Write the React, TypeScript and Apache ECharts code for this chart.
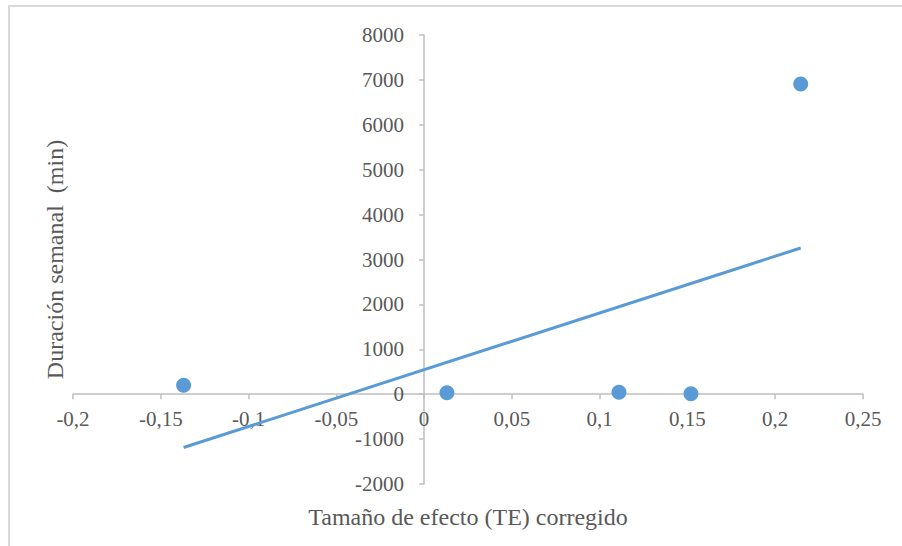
import React, { useEffect, useRef } from "react";
import * as echarts from "echarts";

const effectSize: number[] = [-0.137, 0.013, 0.111, 0.152, 0.2145];
const weeklyMinutes: number[] = [200, 30, 45, 10, 6910];
const xTitle = "Tamaño de efecto (TE) corregido";
const yTitle = "Duración semanal  (min)";

function regression(xs: number[], ys: number[]) {
  const n = xs.length;
  const mx = xs.reduce((a, b) => a + b, 0) / n;
  const my = ys.reduce((a, b) => a + b, 0) / n;
  let sxy = 0;
  let sxx = 0;
  for (let i = 0; i < n; i++) {
    sxy += (xs[i] - mx) * (ys[i] - my);
    sxx += (xs[i] - mx) * (xs[i] - mx);
  }
  const slope = sxy / sxx;
  return { slope, intercept: my - slope * mx };
}

export default function App() {
  const ref = useRef<HTMLDivElement>(null);
  useEffect(() => {
    if (!ref.current) return;
    const chart = echarts.init(ref.current, null, { renderer: "svg" });
    const { slope, intercept } = regression(effectSize, weeklyMinutes);
    const xMin = Math.min(...effectSize);
    const xMax = Math.max(...effectSize);
    const trend = [
      [xMin, intercept + slope * xMin],
      [xMax, intercept + slope * xMax],
    ];
    const font = "'Liberation Serif', 'Times New Roman', serif";
    const axisColor = "#bfbfbf";
    const textColor = "#595959";
    // grid geometry (pixels) and the offsets that place each axis on the other's zero
    const gridLeft = 73;
    const gridRight = 39;
    const gridTop = 35;
    const gridBottom = 62;
    const plotW = 902 - gridLeft - gridRight;
    const plotH = 546 - gridTop - gridBottom;
    const xLo = -0.2, xHi = 0.25, yLo = -2000, yHi = 8000;
    const xZeroOffset = -((0 - yLo) / (yHi - yLo)) * plotH;
    const yZeroOffset = -((0 - xLo) / (xHi - xLo)) * plotW;
    chart.setOption({
      animation: false,
      backgroundColor: "#ffffff",
      textStyle: { fontFamily: font },
      graphic: [
        { type: "rect", shape: { x: 8, y: 5, width: 894, height: 2 }, style: { fill: "#d9d9d9" }, silent: true },
        { type: "rect", shape: { x: 8, y: 5, width: 2, height: 541 }, style: { fill: "#d9d9d9" }, silent: true },
      ],
      grid: {
        left: gridLeft,
        right: gridRight,
        top: gridTop,
        bottom: gridBottom,
        containLabel: false,
        outerBoundsMode: "none",
      },
      xAxis: {
        type: "value",
        min: xLo,
        max: xHi,
        interval: 0.05,
        position: "bottom",
        offset: xZeroOffset,
        name: xTitle,
        nameLocation: "middle",
        nameGap: 111,
        nameTextStyle: { fontFamily: font, fontSize: 24, color: textColor },
        axisLine: { show: true, onZero: false, lineStyle: { color: axisColor, width: 1.5 } },
        axisTick: { show: true, length: 5, lineStyle: { color: axisColor, width: 1.5 } },
        splitLine: { show: false },
        axisLabel: {
          fontFamily: font,
          fontSize: 21,
          color: textColor,
          margin: 14,
          formatter: (v: number) => String(Number(v.toFixed(2))).replace(".", ","),
        },
      },
      yAxis: {
        type: "value",
        min: yLo,
        max: yHi,
        interval: 1000,
        position: "left",
        offset: yZeroOffset,
        name: yTitle,
        nameLocation: "middle",
        nameGap: 357,
        nameTextStyle: { fontFamily: font, fontSize: 24, color: textColor },
        axisLine: { show: true, onZero: false, lineStyle: { color: axisColor, width: 1.5 } },
        axisTick: { show: true, length: 5, lineStyle: { color: axisColor, width: 1.5 } },
        splitLine: { show: false },
        axisLabel: {
          fontFamily: font,
          fontSize: 21,
          color: textColor,
          margin: 20,
          formatter: (v: number) => String(v),
        },
      },
      series: [
        {
          type: "line",
          data: trend,
          showSymbol: false,
          symbol: "none",
          lineStyle: { color: "#5b9bd5", width: 3 },
          z: 2,
        },
        {
          type: "scatter",
          data: effectSize.map((x, i) => [x, weeklyMinutes[i]]),
          symbolSize: 15,
          itemStyle: { color: "#5b9bd5", opacity: 1 },
          z: 3,
        },
      ],
    });
    return () => chart.dispose();
  }, []);
  return (
    <div
      ref={ref}
      style={{ position: "fixed", left: 0, top: 0, width: 902, height: 546 }}
    />
  );
}
